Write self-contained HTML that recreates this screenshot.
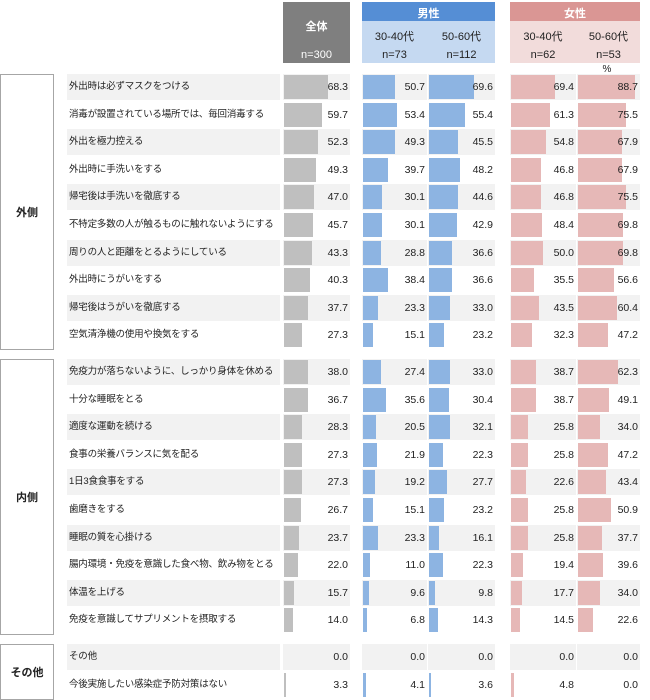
<!DOCTYPE html><html><head><meta charset="utf-8"><style>
body{margin:0;width:650px;height:700px;background:#fff;position:relative;font-family:"Liberation Sans","Noto Sans CJK JP",sans-serif;color:#222;overflow:hidden}
.a{position:absolute}
.h{position:absolute;text-align:center;font-size:11px}
.r{position:absolute;left:0;width:650px;height:26px;font-size:9.5px}
.r .l{position:absolute;left:67px;width:213px;height:26px;line-height:26px;padding-left:2px;box-sizing:border-box;white-space:nowrap;overflow:hidden;letter-spacing:-0.2px}
.r .c{position:absolute;height:26px}
.g .l,.g .c{background:#f2f2f2}
.c i{position:absolute;left:1px;top:1px;height:24px}
.c b{position:absolute;right:2px;top:0;line-height:26px;font-weight:normal;font-size:10.5px}
.c1{left:283px;width:67px}.c1 i{background:#bfbfbf}
.c2{left:362px;width:65px}.c2 i{background:#8db4e2}
.c3{left:428px;width:67px}.c3 i{background:#8db4e2}
.c4{left:510px;width:66px}.c4 i{background:#e6b8b7}
.c5{left:577px;width:63px}.c5 i{background:#e6b8b7}
.gb{position:absolute;left:0;width:54px;border:1px solid #a6a6a6;box-sizing:border-box;background:#fff;font-size:11px;display:flex;align-items:center;justify-content:center;font-weight:bold}
</style></head><body>
<div class="a" style="left:283px;top:2px;width:67px;height:61px;background:#7f7f7f"></div>
<div class="h" style="left:283px;top:18px;width:67px;color:#fff;font-weight:bold">全体</div>
<div class="h" style="left:283px;top:49px;width:67px;color:#fff">n=300</div>
<div class="a" style="left:362px;top:2px;width:133px;height:61px;background:#c5d9f1"></div>
<div class="a" style="left:362px;top:2px;width:133px;height:19px;background:#558ed5"></div>
<div class="h" style="left:362px;top:5px;width:133px;color:#fff;font-weight:bold">男性</div>
<div class="h" style="left:362px;top:28px;width:65px">30-40代</div>
<div class="h" style="left:428px;top:28px;width:67px">50-60代</div>
<div class="h" style="left:362px;top:49px;width:65px">n=73</div>
<div class="h" style="left:428px;top:49px;width:67px">n=112</div>
<div class="a" style="left:510px;top:2px;width:130px;height:61px;background:#f2dcdb"></div>
<div class="a" style="left:510px;top:2px;width:130px;height:19px;background:#da9694"></div>
<div class="h" style="left:510px;top:5px;width:130px;color:#fff;font-weight:bold">女性</div>
<div class="h" style="left:510px;top:28px;width:66px">30-40代</div>
<div class="h" style="left:577px;top:28px;width:63px">50-60代</div>
<div class="h" style="left:510px;top:49px;width:66px">n=62</div>
<div class="h" style="left:577px;top:49px;width:63px">n=53</div>
<div class="h" style="left:597px;top:64px;width:20px;font-size:10px">%</div>
<div class="gb" style="top:74px;height:276px">外側</div>
<div class="gb" style="top:359px;height:276px">内側</div>
<div class="gb" style="top:644px;height:56px">その他</div>

<div class="r g" style="top:74px"><div class="l">外出時は必ずマスクをつける</div><div class="c c1"><i style="width:43.7px"></i><b>68.3</b></div><div class="c c2"><i style="width:32.4px"></i><b>50.7</b></div><div class="c c3"><i style="width:44.5px"></i><b>69.6</b></div><div class="c c4"><i style="width:44.4px"></i><b>69.4</b></div><div class="c c5"><i style="width:56.8px"></i><b>88.7</b></div></div>
<div class="r" style="top:101.6px"><div class="l">消毒が設置されている場所では、毎回消毒する</div><div class="c c1"><i style="width:38.2px"></i><b>59.7</b></div><div class="c c2"><i style="width:34.2px"></i><b>53.4</b></div><div class="c c3"><i style="width:35.5px"></i><b>55.4</b></div><div class="c c4"><i style="width:39.2px"></i><b>61.3</b></div><div class="c c5"><i style="width:48.3px"></i><b>75.5</b></div></div>
<div class="r g" style="top:129.2px"><div class="l">外出を極力控える</div><div class="c c1"><i style="width:33.5px"></i><b>52.3</b></div><div class="c c2"><i style="width:31.6px"></i><b>49.3</b></div><div class="c c3"><i style="width:29.1px"></i><b>45.5</b></div><div class="c c4"><i style="width:35.1px"></i><b>54.8</b></div><div class="c c5"><i style="width:43.5px"></i><b>67.9</b></div></div>
<div class="r" style="top:156.8px"><div class="l">外出時に手洗いをする</div><div class="c c1"><i style="width:31.6px"></i><b>49.3</b></div><div class="c c2"><i style="width:25.4px"></i><b>39.7</b></div><div class="c c3"><i style="width:30.8px"></i><b>48.2</b></div><div class="c c4"><i style="width:30px"></i><b>46.8</b></div><div class="c c5"><i style="width:43.5px"></i><b>67.9</b></div></div>
<div class="r g" style="top:184.4px"><div class="l">帰宅後は手洗いを徹底する</div><div class="c c1"><i style="width:30.1px"></i><b>47.0</b></div><div class="c c2"><i style="width:19.3px"></i><b>30.1</b></div><div class="c c3"><i style="width:28.5px"></i><b>44.6</b></div><div class="c c4"><i style="width:30px"></i><b>46.8</b></div><div class="c c5"><i style="width:48.3px"></i><b>75.5</b></div></div>
<div class="r" style="top:212px"><div class="l">不特定多数の人が触るものに触れないようにする</div><div class="c c1"><i style="width:29.2px"></i><b>45.7</b></div><div class="c c2"><i style="width:19.3px"></i><b>30.1</b></div><div class="c c3"><i style="width:27.5px"></i><b>42.9</b></div><div class="c c4"><i style="width:31px"></i><b>48.4</b></div><div class="c c5"><i style="width:44.7px"></i><b>69.8</b></div></div>
<div class="r g" style="top:239.6px"><div class="l">周りの人と距離をとるようにしている</div><div class="c c1"><i style="width:27.7px"></i><b>43.3</b></div><div class="c c2"><i style="width:18.4px"></i><b>28.8</b></div><div class="c c3"><i style="width:23.4px"></i><b>36.6</b></div><div class="c c4"><i style="width:32px"></i><b>50.0</b></div><div class="c c5"><i style="width:44.7px"></i><b>69.8</b></div></div>
<div class="r" style="top:267.2px"><div class="l">外出時にうがいをする</div><div class="c c1"><i style="width:25.8px"></i><b>40.3</b></div><div class="c c2"><i style="width:24.6px"></i><b>38.4</b></div><div class="c c3"><i style="width:23.4px"></i><b>36.6</b></div><div class="c c4"><i style="width:22.7px"></i><b>35.5</b></div><div class="c c5"><i style="width:36.2px"></i><b>56.6</b></div></div>
<div class="r g" style="top:294.8px"><div class="l">帰宅後はうがいを徹底する</div><div class="c c1"><i style="width:24.1px"></i><b>37.7</b></div><div class="c c2"><i style="width:14.9px"></i><b>23.3</b></div><div class="c c3"><i style="width:21.1px"></i><b>33.0</b></div><div class="c c4"><i style="width:27.8px"></i><b>43.5</b></div><div class="c c5"><i style="width:38.7px"></i><b>60.4</b></div></div>
<div class="r" style="top:322.4px"><div class="l">空気清浄機の使用や換気をする</div><div class="c c1"><i style="width:17.5px"></i><b>27.3</b></div><div class="c c2"><i style="width:9.7px"></i><b>15.1</b></div><div class="c c3"><i style="width:14.8px"></i><b>23.2</b></div><div class="c c4"><i style="width:20.7px"></i><b>32.3</b></div><div class="c c5"><i style="width:30.2px"></i><b>47.2</b></div></div>

<div class="r g" style="top:359px"><div class="l">免疫力が落ちないように、しっかり身体を休める</div><div class="c c1"><i style="width:24.3px"></i><b>38.0</b></div><div class="c c2"><i style="width:17.5px"></i><b>27.4</b></div><div class="c c3"><i style="width:21.1px"></i><b>33.0</b></div><div class="c c4"><i style="width:24.8px"></i><b>38.7</b></div><div class="c c5"><i style="width:39.9px"></i><b>62.3</b></div></div>
<div class="r" style="top:386.6px"><div class="l">十分な睡眠をとる</div><div class="c c1"><i style="width:23.5px"></i><b>36.7</b></div><div class="c c2"><i style="width:22.8px"></i><b>35.6</b></div><div class="c c3"><i style="width:19.5px"></i><b>30.4</b></div><div class="c c4"><i style="width:24.8px"></i><b>38.7</b></div><div class="c c5"><i style="width:31.4px"></i><b>49.1</b></div></div>
<div class="r g" style="top:414.2px"><div class="l">適度な運動を続ける</div><div class="c c1"><i style="width:18.1px"></i><b>28.3</b></div><div class="c c2"><i style="width:13.1px"></i><b>20.5</b></div><div class="c c3"><i style="width:20.5px"></i><b>32.1</b></div><div class="c c4"><i style="width:16.5px"></i><b>25.8</b></div><div class="c c5"><i style="width:21.8px"></i><b>34.0</b></div></div>
<div class="r" style="top:441.8px"><div class="l">食事の栄養バランスに気を配る</div><div class="c c1"><i style="width:17.5px"></i><b>27.3</b></div><div class="c c2"><i style="width:14px"></i><b>21.9</b></div><div class="c c3"><i style="width:14.3px"></i><b>22.3</b></div><div class="c c4"><i style="width:16.5px"></i><b>25.8</b></div><div class="c c5"><i style="width:30.2px"></i><b>47.2</b></div></div>
<div class="r g" style="top:469.4px"><div class="l">1日3食食事をする</div><div class="c c1"><i style="width:17.5px"></i><b>27.3</b></div><div class="c c2"><i style="width:12.3px"></i><b>19.2</b></div><div class="c c3"><i style="width:17.7px"></i><b>27.7</b></div><div class="c c4"><i style="width:14.5px"></i><b>22.6</b></div><div class="c c5"><i style="width:27.8px"></i><b>43.4</b></div></div>
<div class="r" style="top:497px"><div class="l">歯磨きをする</div><div class="c c1"><i style="width:17.1px"></i><b>26.7</b></div><div class="c c2"><i style="width:9.7px"></i><b>15.1</b></div><div class="c c3"><i style="width:14.8px"></i><b>23.2</b></div><div class="c c4"><i style="width:16.5px"></i><b>25.8</b></div><div class="c c5"><i style="width:32.6px"></i><b>50.9</b></div></div>
<div class="r g" style="top:524.6px"><div class="l">睡眠の質を心掛ける</div><div class="c c1"><i style="width:15.2px"></i><b>23.7</b></div><div class="c c2"><i style="width:14.9px"></i><b>23.3</b></div><div class="c c3"><i style="width:10.3px"></i><b>16.1</b></div><div class="c c4"><i style="width:16.5px"></i><b>25.8</b></div><div class="c c5"><i style="width:24.1px"></i><b>37.7</b></div></div>
<div class="r" style="top:552.2px"><div class="l">腸内環境・免疫を意識した食べ物、飲み物をとる</div><div class="c c1"><i style="width:14.1px"></i><b>22.0</b></div><div class="c c2"><i style="width:7px"></i><b>11.0</b></div><div class="c c3"><i style="width:14.3px"></i><b>22.3</b></div><div class="c c4"><i style="width:12.4px"></i><b>19.4</b></div><div class="c c5"><i style="width:25.3px"></i><b>39.6</b></div></div>
<div class="r g" style="top:579.8px"><div class="l">体温を上げる</div><div class="c c1"><i style="width:10px"></i><b>15.7</b></div><div class="c c2"><i style="width:6.1px"></i><b>9.6</b></div><div class="c c3"><i style="width:6.3px"></i><b>9.8</b></div><div class="c c4"><i style="width:11.3px"></i><b>17.7</b></div><div class="c c5"><i style="width:21.8px"></i><b>34.0</b></div></div>
<div class="r" style="top:607.4px"><div class="l">免疫を意識してサプリメントを摂取する</div><div class="c c1"><i style="width:9px"></i><b>14.0</b></div><div class="c c2"><i style="width:4.4px"></i><b>6.8</b></div><div class="c c3"><i style="width:9.2px"></i><b>14.3</b></div><div class="c c4"><i style="width:9.3px"></i><b>14.5</b></div><div class="c c5"><i style="width:14.5px"></i><b>22.6</b></div></div>

<div class="r g" style="top:644px"><div class="l">その他</div><div class="c c1"><b>0.0</b></div><div class="c c2"><b>0.0</b></div><div class="c c3"><b>0.0</b></div><div class="c c4"><b>0.0</b></div><div class="c c5"><b>0.0</b></div></div>
<div class="r" style="top:671.6px"><div class="l">今後実施したい感染症予防対策はない</div><div class="c c1"><i style="width:2.1px"></i><b>3.3</b></div><div class="c c2"><i style="width:2.6px"></i><b>4.1</b></div><div class="c c3"><i style="width:2.3px"></i><b>3.6</b></div><div class="c c4"><i style="width:3.1px"></i><b>4.8</b></div><div class="c c5"><b>0.0</b></div></div>
</body></html>
